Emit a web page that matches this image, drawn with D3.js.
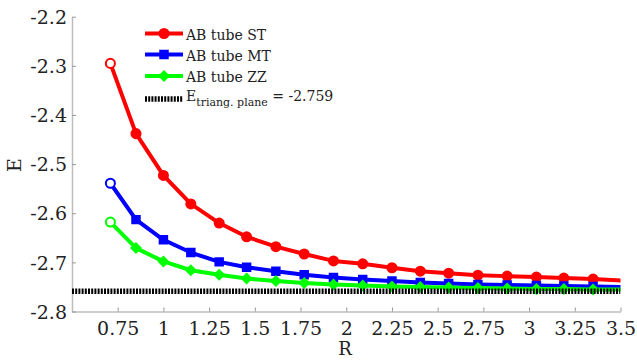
<!DOCTYPE html>
<html><head><meta charset="utf-8">
<script src="https://cdn.jsdelivr.net/npm/d3@7"></script>
<style>body{margin:0;background:#fff}svg{display:block}</style>
</head><body>
<svg id="c" width="637" height="361"></svg>
<script>
const R = [0.71,0.85,1.0,1.15,1.305,1.455,1.615,1.77,1.93,2.09,2.25,2.405,2.56,2.72,2.88,3.04,3.19,3.35,3.51];
const E_ST = [-2.295,-2.438,-2.523,-2.581,-2.620,-2.648,-2.668,-2.683,-2.697,-2.703,-2.711,-2.718,-2.722,-2.726,-2.728,-2.730,-2.732,-2.734,-2.737];
const E_MT = [-2.539,-2.613,-2.654,-2.680,-2.699,-2.710,-2.718,-2.725,-2.731,-2.735,-2.738,-2.741,-2.743,-2.745,-2.746,-2.747,-2.748,-2.749,-2.750];
const E_ZZ = [-2.618,-2.671,-2.698,-2.716,-2.725,-2.733,-2.738,-2.742,-2.745,-2.747,-2.749,-2.750,-2.751,-2.752,-2.753,-2.754,-2.754,-2.755,-2.755];
const E_PLANE = -2.759;
const xTicks = [0.75,1,1.25,1.5,1.75,2,2.25,2.5,2.75,3,3.25,3.5];
const yTicks = [-2.8,-2.7,-2.6,-2.5,-2.4,-2.3,-2.2];
const seriesNames = ["AB tube ST","AB tube MT","AB tube ZZ"];
const seriesColors = ["#ff0000","#0000ff","#00ff00"];
const seriesShapes = ["circle","square","diamond"];

const svg = d3.select("#c");
const FONT = "DejaVu Serif";
const x = d3.scaleLinear().domain([0.5,3.5]).range([72,620.5]);
const y = d3.scaleLinear().domain([-2.8,-2.2]).range([311.5,16.7]);

const axCol = "#bdbdbd";
const gx = svg.append("g").attr("transform","translate(0,311.5)")
  .call(d3.axisBottom(x).tickValues(xTicks).tickFormat(d=>String(d)).tickSizeInner(-4).tickSizeOuter(0).tickPadding(10));
const gy = svg.append("g").attr("transform","translate(72,0)")
  .call(d3.axisLeft(y).tickValues(yTicks).tickFormat(d=>String(d)).tickSizeInner(-4).tickSizeOuter(0).tickPadding(5));
[gx,gy].forEach(g=>{
  g.select(".domain").attr("stroke",axCol).attr("stroke-width",1.5);
  g.selectAll(".tick line").attr("stroke","#999").attr("stroke-width",1);
  g.selectAll(".tick text").attr("font-family",FONT).attr("font-size",19).attr("fill","#222");
});
gy.selectAll(".tick text").attr("dy","0.35em");
gx.selectAll(".tick text").attr("dy","0.71em");

svg.append("text").attr("x",345).attr("y",348).attr("text-anchor","middle").attr("dominant-baseline","central")
  .attr("font-family",FONT).attr("font-size",18).attr("fill","#222").text("R");
svg.append("text").attr("transform","translate(14,165) rotate(-90)").attr("text-anchor","middle").attr("dominant-baseline","central")
  .attr("font-family",FONT).attr("font-size",19).attr("fill","#222").text("E");

svg.append("defs").append("clipPath").attr("id","clip").append("rect")
  .attr("x",72).attr("y",0).attr("width",620.5-72).attr("height",312);

const plot = svg.append("g").attr("clip-path","url(#clip)");
const symGen = {
  circle: d3.symbol().type(d3.symbolCircle).size(64),
  square: d3.symbol().type(d3.symbolSquare).size(56),
  diamond: d3.symbol().type(d3.symbolSquare).size(42)
};
const symRot = {circle:0, square:0, diamond:45};
const seriesVals = [E_ST,E_MT,E_ZZ];
const line = d3.line().x(d=>x(d[0])).y(d=>y(d[1]));

seriesVals.forEach((vals,i)=>{
  const pts = R.map((r,k)=>[r,vals[k]]);
  const shp = seriesShapes[i];
  plot.append("path").attr("d",line(pts)).attr("fill","none")
    .attr("stroke",seriesColors[i]).attr("stroke-width",4).attr("stroke-linejoin","round");
  plot.selectAll(null).data(pts.filter(p=>p[0]<=3.5)).enter().append("path")
    .attr("transform",(p,k)=>`translate(${x(p[0])},${y(p[1])}) rotate(${k===0?0:symRot[shp]})`)
    .attr("d",(p,k)=>k===0?symGen.circle():symGen[shp]())
    .attr("fill",(p,k)=>k===0?"#fff":seriesColors[i])
    .attr("stroke",seriesColors[i]).attr("stroke-width",2);
});

plot.append("line").attr("x1",x(0.5)).attr("x2",x(3.5)).attr("y1",y(E_PLANE)).attr("y2",y(E_PLANE))
  .attr("stroke","#000").attr("stroke-width",5.5).attr("stroke-dasharray","2,1.2");

const lg = svg.append("g");
const rowsY = [33.5,54.5,76];
seriesNames.forEach((n,i)=>{
  const shp = seriesShapes[i];
  lg.append("line").attr("x1",145).attr("x2",183).attr("y1",rowsY[i]).attr("y2",rowsY[i])
    .attr("stroke",seriesColors[i]).attr("stroke-width",4);
  lg.append("path").attr("transform",`translate(164,${rowsY[i]}) rotate(${symRot[shp]})`)
    .attr("d",symGen[shp]())
    .attr("fill",seriesColors[i]).attr("stroke",seriesColors[i]).attr("stroke-width",2);
  lg.append("text").attr("x",186).attr("y",rowsY[i]+1).attr("dominant-baseline","central")
    .attr("font-family",FONT).attr("font-size",14).attr("fill","#222").text(n);
});
lg.append("line").attr("x1",145).attr("x2",183).attr("y1",99).attr("y2",99)
  .attr("stroke","#000").attr("stroke-width",5.5).attr("stroke-dasharray","2,1.2");
const t = lg.append("text").attr("x",186).attr("y",101).attr("font-family",FONT).attr("font-size",14).attr("fill","#222");
t.append("tspan").text("E");
t.append("tspan").attr("font-size",11).attr("dy",5).text("triang. plane");
t.append("tspan").attr("dy",-5).text(" = " + E_PLANE);
</script>
</body></html>
